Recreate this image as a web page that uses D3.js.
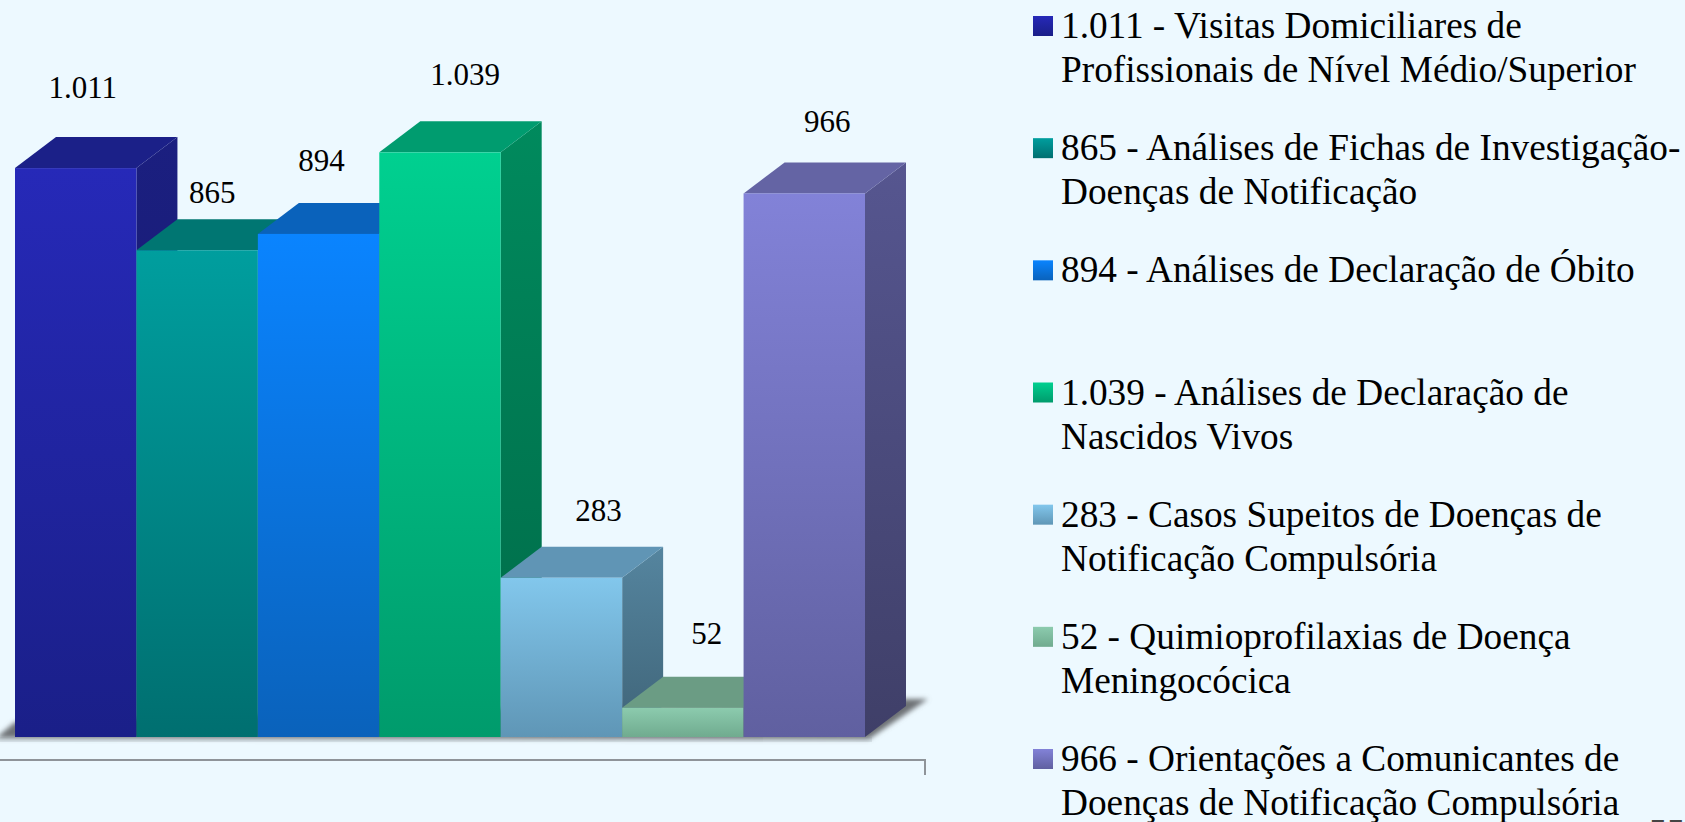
<!DOCTYPE html>
<html><head><meta charset="utf-8">
<script src="https://cdn.jsdelivr.net/npm/d3@7/dist/d3.min.js"></script>
<style>html,body{margin:0;padding:0;background:#edf9ff;overflow:hidden}svg{display:block}text{font-family:"Liberation Serif","Times New Roman",serif;fill:#000}</style>
</head><body><svg id="c" width="1685" height="822"></svg>
<script>
const categories = ["Visitas","Fichas","Obito","Nascidos","Suspeitos","Quimio","Orientacoes"];
const values = [1011,865,894,1039,283,52,966];
const valueLabels = ["1.011","865","894","1.039","283","52","966"];
const labelDx = [7,15,3,25,37,24,23];
const labelDy = [70,47,63,67,57,64,61];
const frontTop = ["#2629b8","#009e9e","#0a84ff","#00d090","#82c7ec","#8ccbae","#8282d8"];
const frontBottom = ["#1a1f88","#006f70","#0a62bb","#009b6c","#5f96b6","#70ab8f","#6060a0"];
const topColors = ["#1b2088","#007672","#0a62bb","#009c6f","#6095b5","#6b9c84","#6464a4"];
const sideTop = ["#1b1f80","#005a58","#084a90","#008a5d","#55859f","#4f7a66","#565690"];
const sideBottom = ["#15186a","#004a48","#063c75","#006a48","#3f6478","#3f6450","#3f3f68"];
const legendLines = [
 ["1.011 - Visitas Domiciliares de","Profissionais de Nível Médio/Superior"],
 ["865 - Análises de Fichas de Investigação-","Doenças de Notificação"],
 ["894 - Análises de Declaração de Óbito"],
 ["1.039 - Análises de Declaração de","Nascidos Vivos"],
 ["283 - Casos Supeitos de Doenças de","Notificação Compulsória"],
 ["52 - Quimioprofilaxias de Doença","Meningocócica"],
 ["966 - Orientações a Comunicantes de","Doenças de Notificação Compulsória"]
];
const pageNumber = "55";
const svg = d3.select("#c");
const x = d3.scaleBand().domain(categories).range([15,865]).padding(0);
const y = d3.scaleLinear().domain([0,1100]).range([737,118]);
const dX = 41, dY = 31;
const defs = svg.append("defs");
defs.append("filter").attr("id","blur").attr("x","-10%").attr("y","-50%").attr("width","120%").attr("height","200%")
  .append("feGaussianBlur").attr("stdDeviation",2.5);
categories.forEach((c,i)=>{
  const g1=defs.append("linearGradient").attr("id","f"+i).attr("x1",0).attr("x2",0).attr("y1",0).attr("y2",1);
  g1.append("stop").attr("offset",0).attr("stop-color",frontTop[i]);
  g1.append("stop").attr("offset",1).attr("stop-color",frontBottom[i]);
  const g2=defs.append("linearGradient").attr("id","s"+i).attr("x1",0).attr("x2",0).attr("y1",0).attr("y2",1);
  g2.append("stop").attr("offset",0).attr("stop-color",sideTop[i]);
  g2.append("stop").attr("offset",1).attr("stop-color",sideBottom[i]);
});
const poly = p=>p.map(q=>q.join(",")).join(" ");
// pale floor band, then floor shadow
svg.append("rect").attr("x",0).attr("y",y(0)).attr("width",872).attr("height",5).attr("fill","#dbe7ed");
svg.append("polygon").attr("points",poly([[-4,738],[x.range()[1]+4,739],[x.range()[1]+dX+22,y(0)-dY-7],[x.range()[1],y(0)-dY-7],[15,y(0)-15]]))
  .attr("fill","#6e7276").attr("filter","url(#blur)");
// bars
const bars = svg.append("g").selectAll("g").data(categories).join("g");
bars.each(function(c,i){
  const g=d3.select(this), l=x(c), r=l+x.bandwidth(), t=y(values[i]), b=y(0);
  g.append("polygon").attr("points",poly([[r,t],[r+dX,t-dY],[r+dX,b-dY],[r,b]])).attr("fill",`url(#s${i})`);
  g.append("polygon").attr("points",poly([[l,t],[r,t],[r+dX,t-dY],[l+dX,t-dY]])).attr("fill",topColors[i]);
  g.append("rect").attr("x",l).attr("y",t).attr("width",x.bandwidth()).attr("height",b-t).attr("fill",`url(#f${i})`);
});
// value labels
svg.append("g").selectAll("text").data(categories).join("text")
  .attr("x",(c,i)=>x(c)+x.bandwidth()/2+labelDx[i])
  .attr("y",(c,i)=>y(values[i])-labelDy[i])
  .attr("text-anchor","middle").attr("font-size",31).text((c,i)=>valueLabels[i]);
// bracket line
svg.append("path").attr("d","M0,760H925V775").attr("fill","none").attr("stroke","#8f9499").attr("stroke-width",2);
// legend
const ly = d3.scalePoint().domain(categories).range([26,759]);
const leg = svg.append("g").selectAll("g").data(categories).join("g").attr("transform",c=>`translate(0,${ly(c)})`);
leg.append("rect").attr("x",1033).attr("y",-10).attr("width",20).attr("height",20).attr("fill",(c,i)=>`url(#f${i})`);
leg.each(function(c,i){
  d3.select(this).selectAll("text").data(legendLines[i]).join("text")
    .attr("x",1061).attr("y",(d,j)=>12+j*44).attr("font-size",37.3).text(d=>d);
});
// slide number, cut off by the bottom edge
svg.append("text").attr("x",1649).attr("y",844).attr("font-size",36).style("fill","#444").text(pageNumber);
</script></body></html>
